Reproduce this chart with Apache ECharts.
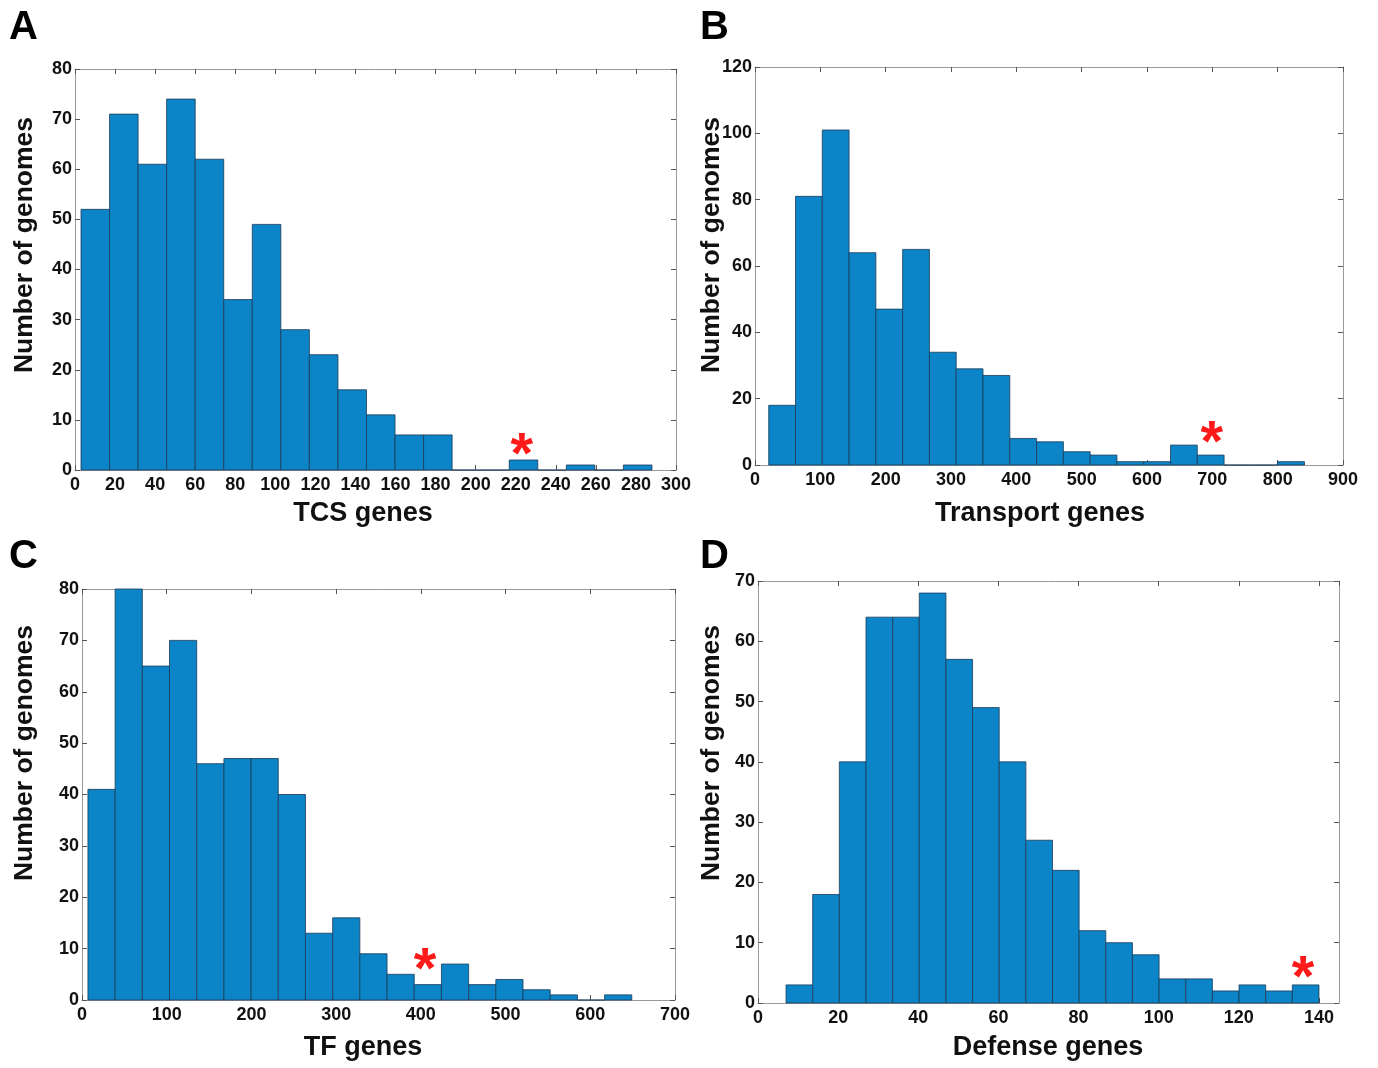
<!DOCTYPE html>
<html>
<head>
<meta charset="utf-8">
<script src="https://cdn.jsdelivr.net/npm/echarts@6/dist/echarts.min.js"></script>
<style>
html,body{margin:0;padding:0;background:#fff;}
#main{width:1378px;height:1068px;}
</style>
</head>
<body>
<div id="main"></div>
<script>
// ---- Data ----
// Each histogram: 20 equal-width bins spanning [lo, hi]
var tcsRange = [3, 288];
var tcsCounts = [52, 71, 61, 74, 62, 34, 49, 28, 23, 16, 11, 7, 7, 0, 0, 2, 0, 1, 0, 1];

var transportRange = [21, 841];
var transportCounts = [18, 81, 101, 64, 47, 65, 34, 29, 27, 8, 7, 4, 3, 1, 1, 6, 3, 0, 0, 1];

var tfRange = [7, 649];
var tfCounts = [41, 80, 65, 70, 46, 47, 47, 40, 13, 16, 9, 5, 3, 7, 3, 4, 2, 1, 0, 1];

var defenseRange = [7, 140];
var defenseCounts = [3, 18, 40, 64, 64, 68, 57, 49, 40, 27, 22, 12, 10, 8, 4, 4, 2, 3, 2, 3];

// Red asterisk markers [x, y] (glyph centre, data units)
var tcsStar = [223, 5];
var transportStar = [699, 9.6];
var tfStar = [405, 7.8];
var defenseStar = [136, 5.8];

var panelLetters = ['A', 'B', 'C', 'D'];
var xTitles = ['TCS genes', 'Transport genes', 'TF genes', 'Defense genes'];
var yTitle = 'Number of genomes';

// axis limits / intervals
var xMax = [300, 900, 700, 145];
var xStep = [20, 100, 100, 20];
var yMax = [80, 120, 80, 70];
var yStep = [10, 20, 10, 10];

// ---- Layout ----
var grids = [
  {left: 75, top: 69, width: 601, height: 401},
  {left: 755, top: 67, width: 588, height: 398},
  {left: 82, top: 589, width: 593, height: 411},
  {left: 758, top: 581, width: 581, height: 422}
];
var letterPos = [[9, 8], [700, 8], [9, 537], [700, 537]];
var xTitlePos = [[363, 514], [1040, 514], [363, 1048], [1048, 1048]];
var yTitlePos = [[25, 245], [712, 245], [25, 753], [712, 753]];

var ranges = [tcsRange, transportRange, tfRange, defenseRange];
var counts = [tcsCounts, transportCounts, tfCounts, defenseCounts];
var stars = [tcsStar, transportStar, tfStar, defenseStar];

function binData(range, cnt) {
  var n = cnt.length, w = (range[1] - range[0]) / n, out = [];
  for (var i = 0; i < n; i++) out.push([range[0] + i * w, range[0] + (i + 1) * w, cnt[i]]);
  return out;
}

var FONT = 'Liberation Sans';
var boxColor = '#9a9a9a';

var xAxes = [], yAxes = [], series = [], graphics = [];
for (var p = 0; p < 4; p++) {
  var common = {
    gridIndex: p, type: 'value', min: 0,
    splitLine: {show: false},
    axisLine: {show: true, onZero: false, lineStyle: {color: boxColor, width: 1}},
    axisTick: {show: true, inside: true, length: 5, lineStyle: {color: '#555'}}
  };
  xAxes.push(Object.assign({}, common, {
    position: 'bottom', max: xMax[p], interval: xStep[p],
    axisLabel: {margin: 6, fontFamily: FONT, fontWeight: 'bold', fontSize: 18, color: '#111',
                showMaxLabel: xMax[p] % xStep[p] === 0}
  }));
  xAxes.push(Object.assign({}, common, {
    position: 'top', max: xMax[p], interval: xStep[p], axisLabel: {show: false}
  }));
  yAxes.push(Object.assign({}, common, {
    position: 'left', max: yMax[p], interval: yStep[p],
    axisLabel: {margin: 3, fontFamily: FONT, fontWeight: 'bold', fontSize: 18, color: '#111'}
  }));
  yAxes.push(Object.assign({}, common, {
    position: 'right', max: yMax[p], interval: yStep[p], axisLabel: {show: false}
  }));

  series.push({
    type: 'custom',
    xAxisIndex: p * 2, yAxisIndex: p * 2,
    data: binData(ranges[p], counts[p]),
    renderItem: function (params, api) {
      var a = api.coord([api.value(0), api.value(2)]);
      var b = api.coord([api.value(1), 0]);
      return {
        type: 'rect',
        shape: {x: a[0], y: a[1], width: b[0] - a[0], height: b[1] - a[1]},
        style: {fill: '#0b84c8', stroke: '#1d3b57', lineWidth: 0.8}
      };
    },
    silent: true, animation: false
  });
  series.push({
    type: 'custom',
    xAxisIndex: p * 2, yAxisIndex: p * 2,
    data: [stars[p]],
    renderItem: function (params, api) {
      var c = api.coord([api.value(0), api.value(1)]);
      return {
        type: 'text',
        style: {text: '*', x: c[0], y: c[1] + 12, fill: '#ff1a1a', font: 'bold 58px ' + FONT,
                align: 'center', verticalAlign: 'middle'}
      };
    },
    silent: true, animation: false, z: 10
  });

  graphics.push({
    type: 'text', left: letterPos[p][0], top: letterPos[p][1],
    style: {text: panelLetters[p], font: 'bold 40px ' + FONT, fill: '#000'}
  });
  graphics.push({
    type: 'text', x: xTitlePos[p][0], y: xTitlePos[p][1],
    style: {text: xTitles[p], font: 'bold 27px ' + FONT, fill: '#111',
            textAlign: 'center', textVerticalAlign: 'middle'}
  });
  graphics.push({
    type: 'text', x: yTitlePos[p][0], y: yTitlePos[p][1], rotation: Math.PI / 2,
    style: {text: yTitle, font: 'bold 26.5px ' + FONT, fill: '#111',
            textAlign: 'center', textVerticalAlign: 'middle'}
  });
}

var chart = echarts.init(document.getElementById('main'), null, {renderer: 'canvas'});
chart.setOption({
  animation: false,
  backgroundColor: '#fff',
  grid: grids,
  xAxis: xAxes,
  yAxis: yAxes,
  series: series,
  graphic: graphics
});
</script>
</body>
</html>
